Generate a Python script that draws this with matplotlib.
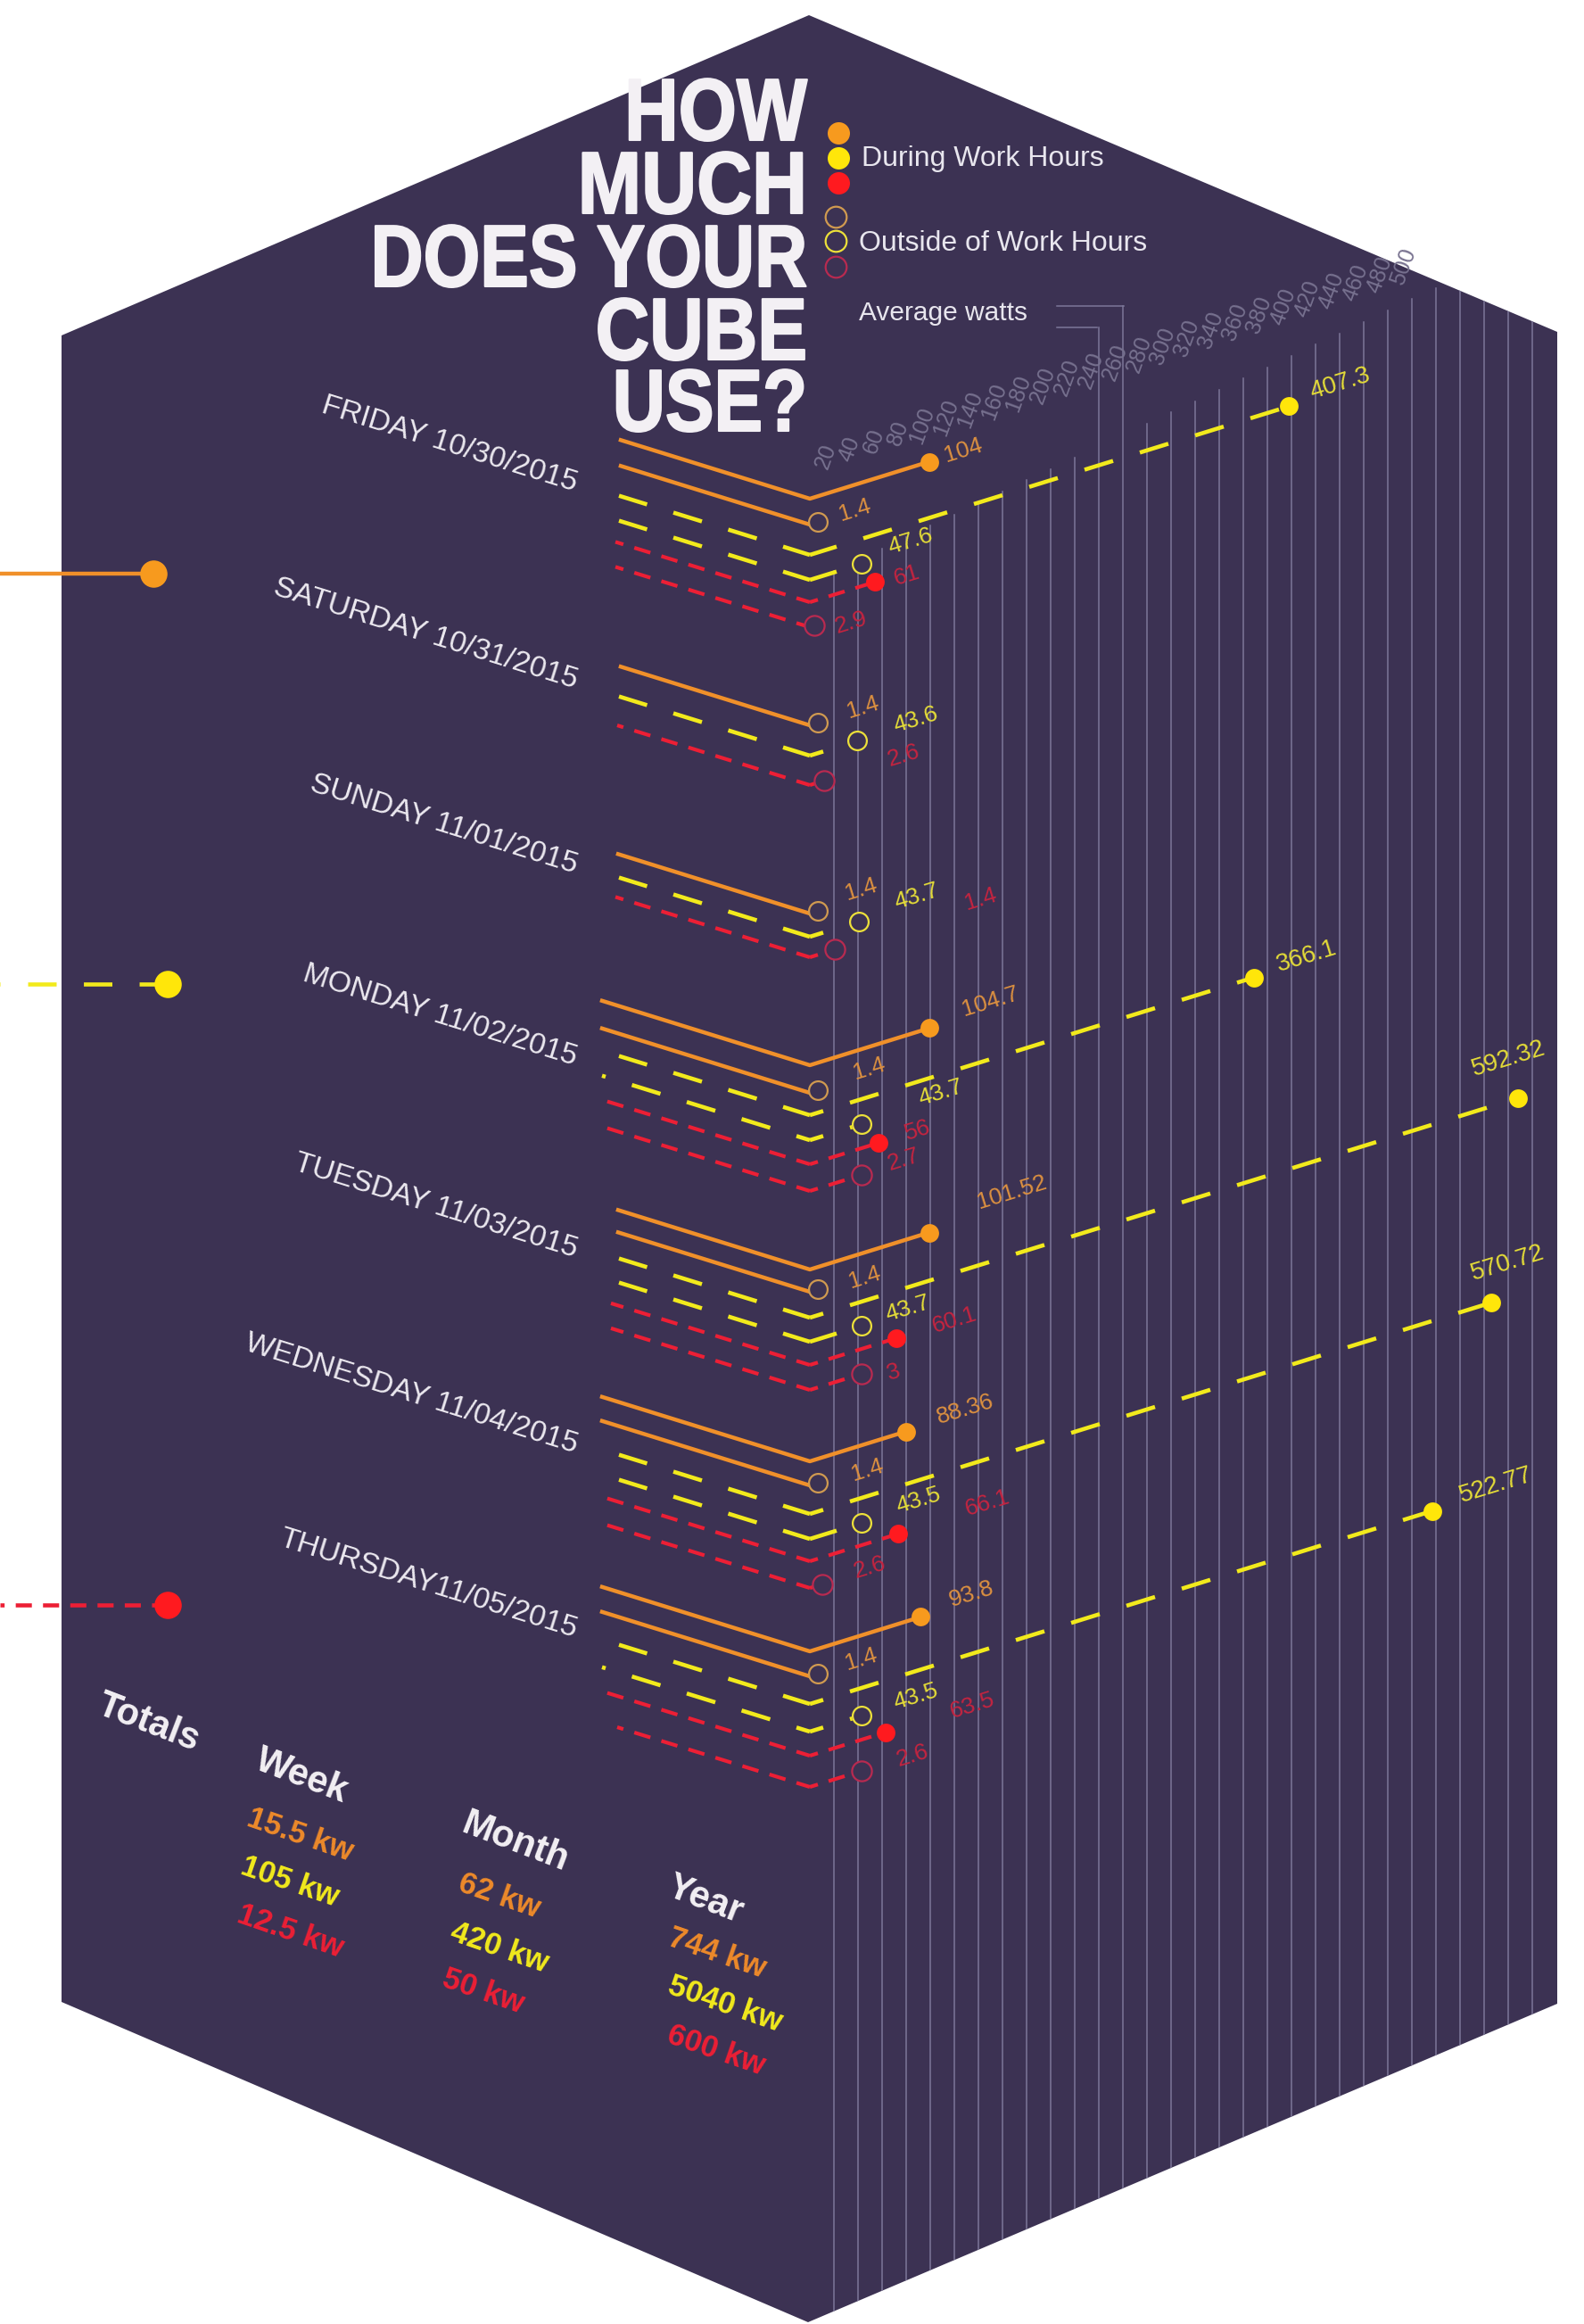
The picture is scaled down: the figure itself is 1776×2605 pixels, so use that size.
import numpy as np
import matplotlib as mpl
mpl.use('Agg')
mpl.rcParams['font.family'] = ['Liberation Sans', 'DejaVu Sans']
mpl.rcParams['lines.scale_dashes'] = False
import matplotlib.pyplot as plt
from matplotlib.patches import Polygon
from matplotlib.patheffects import AbstractPathEffect
from matplotlib.transforms import Affine2D

#=============
# Data
#=============
days = ['FRIDAY 10/30/2015', 'SATURDAY 10/31/2015', 'SUNDAY 11/01/2015', 'MONDAY 11/02/2015',
        'TUESDAY 11/03/2015', 'WEDNESDAY 11/04/2015', 'THURSDAY11/05/2015']

# watts, None = no mark that day
orange_on = [99, None, None, 99.6, 99, 80, 92]
yellow_on = [398, None, None, 369, 588.5, 566, 517]
red_on = [54, None, None, 57.4, 71.5, 73, 62.6]
orange_off = [6.5, 6.5, 6.5, 6.5, 6.5, 6.5, 6.5]
yellow_off = [43.3, 39.6, 40.4, 42.6, 42.6, 42.6, 42.6]
red_off = [4, 12, 21, 43.3, 43.3, 10.7, 43.3]

# printed labels
orange_on_txt = ['104', None, None, '104.7', '101.52', '88.36', '93.8']
yellow_on_txt = ['407.3', None, None, '366.1', '592.32', '570.72', '522.77']
red_on_txt = ['61', None, None, '56', '60.1', '66.1', '63.5']
orange_off_txt = ['1.4', '1.4', '1.4', '1.4', '1.4', '1.4', '1.4']
yellow_off_txt = ['47.6', '43.6', '43.7', '43.7', '43.7', '43.5', '43.5']
red_off_txt = ['2.9', '2.6', '1.4', '2.7', '3', '2.6', '2.6']

ticks = list(range(20, 620, 20))
tick_labels = [str(t) for t in ticks if t <= 500]

totals_head = ['Totals', 'Week', 'Month', 'Year']
totals_week = ['15.5 kw', '105 kw', '12.5 kw']
totals_month = ['62 kw', '420 kw', '50 kw']
totals_year = ['744 kw', '5040 kw', '600 kw']

#=============
# Layout
#=============
W, H = 1776, 2605
x0 = 908
k = 1.35
slope = 0.31
hexagon = [(907, 17), (1746, 372), (1746, 2246), (906, 2603), (69, 2244), (69, 376)]

# y of each line at the corner
y_orange_on = [559, None, None, 1194, 1423, 1638, 1851]
y_orange_off = [588, 813, 1024, 1225, 1448, 1665, 1879]
y_yellow_on = [622, None, None, 1250, 1477, 1697, 1910]
y_yellow_off = [650, 847, 1050, 1278, 1504, 1725, 1941]
y_red_on = [675, None, None, 1305, 1530, 1750, 1968]
y_red_off = [703, 880, 1073, 1335, 1558, 1780, 2003]

# left ends of the lines
left_orange = [696, 696, 693, 675, 693, 675, 675]
left_yellow_off = [694, 694, 694, 675, 694, 694, 675]
left_red = [690, 692, 690, 675, 685, 675, 678]
left_red_off = [690, 692, 690, 675, 685, 675, 692]
first_yellow_off_l = [30, 30, 30, 15, 30, 30, 15]
first_yellow_on_r = [30, None, None, 15, 15, 15, 15]
first_yellow_off_r = [30, 15, 15, 15, 30, 30, 15]

label_orange_on = [(1080, 505), None, None, (1110, 1123), (1134, 1337), (1082, 1580), (1089, 1787)]
label_yellow_on = [(1503, 430), None, None, (1465, 1072), (1691, 1187), (1690, 1416), (1677, 1665)]
label_red_on = [(1017, 645), None, None, (1029, 1267), (1070, 1480), (1107, 1685), (1090, 1912)]
label_orange_off = [(958, 572), (967, 793), (965, 997), (974, 1198), (969, 1432), (972, 1648), (965, 1860)]
label_yellow_off = [(1021, 607), (1027, 807), (1028, 1005), (1055, 1225), (1018, 1467), (1030, 1682), (1027, 1902)]
label_red_off = [(954, 698), (1013, 847), (1099, 1008), (1013, 1300), (1002, 1538), (975, 1757), (1023, 1968)]

date_right = 644
date_y = [551, 772, 979, 1194, 1409, 1629, 1836]

bg = '#3c3253'
orange = '#f0902a'
yellow = '#f2ea1c'
red = '#ec1f35'
grid_col = '#7d7799'
white = '#f3f0f4'
t_orange = '#dc9040'
t_yellow = '#e4dc38'
t_red = '#c42440'


class Narrow(AbstractPathEffect):
    # squeeze a text sideways and thicken it, no condensed font is installed
    def __init__(self, sx, xa, lw):
        super().__init__()
        self.sx = sx
        self.xa = xa
        self.lw = lw

    def draw_path(self, renderer, gc, tpath, affine, rgbFace=None):
        squeeze = Affine2D().translate(-self.xa, 0).scale(self.sx, 1).translate(self.xa, 0)
        gc0 = renderer.new_gc()
        gc0.copy_properties(gc)
        gc0.set_linewidth(self.lw)
        gc0.set_foreground(rgbFace)
        renderer.draw_path(gc0, tpath, affine + squeeze, rgbFace)
        gc0.restore()


def wx(w):
    return x0 + k * w


def wy(y, w):
    return y - slope * k * w


def dashed(ya, xb, color, on, off, first, lw):
    # dashes run outwards from the corner
    s = np.sqrt(1 + slope ** 2) * 0.72
    ax.plot([x0, xb], [ya, ya - slope * abs(xb - x0)], color=color, lw=lw, zorder=3,
            linestyle=((on - first) * s, (on * s, off * s)), dash_capstyle='butt')


fig = plt.figure(figsize=(W / 100, H / 100), dpi=100)
ax = fig.add_axes([0, 0, 1, 1])
ax.set_xlim(0, W)
ax.set_ylim(H, 0)
ax.axis('off')

hex_patch = Polygon(hexagon, closed=True, facecolor=bg, edgecolor='none', zorder=0)
ax.add_patch(hex_patch)

#--------------
# Grid lines
#--------------
for t in ticks:
    x = wx(t)
    top = 640 - 0.47 * (x - 935)
    if t == 240:
        top = 367
    if t == 260:
        top = 343
    ln, = ax.plot([x, x], [top, H], color=grid_col, lw=1.1, zorder=1)
    ln.set_clip_path(hex_patch)

ax.plot([1185, 1260], [343, 343], color=grid_col, lw=1.1, zorder=1)
ax.plot([1185, 1230], [367, 367], color=grid_col, lw=1.1, zorder=1)

for t, lab in zip(ticks, tick_labels):
    tx = ax.text(926 + k * (t - 20), 512 - 0.443 * (t - 20), lab, rotation=70, rotation_mode='anchor',
                 ha='center', va='center', color='#77718f', fontsize=18, zorder=2, clip_on=True)
    tx.set_clip_path(hex_patch)

#--------------
# Daily lines
#--------------
for i in range(len(days)):
    ax.text(date_right, date_y[i], days[i], rotation=-17.3, rotation_mode='anchor', ha='right',
            va='baseline', color='#ece9f0', fontsize=24.2, zorder=4)

    # orange, during and outside work hours
    if orange_on[i] is not None:
        ax.plot([left_orange[i], x0, wx(orange_on[i])],
                [y_orange_on[i] - slope * (x0 - left_orange[i]), y_orange_on[i], wy(y_orange_on[i], orange_on[i])],
                color=orange, lw=3.2, zorder=3)
        ax.plot(wx(orange_on[i]), wy(y_orange_on[i], orange_on[i]), 'o', ms=15, color='#f79a1e', mew=0, zorder=5)
        ax.text(*label_orange_on[i], orange_on_txt[i], rotation=17, rotation_mode='anchor', ha='center',
                va='center', color=t_orange, fontsize=19, zorder=6)

    ax.plot([left_orange[i], x0], [y_orange_off[i] - slope * (x0 - left_orange[i]), y_orange_off[i]],
            color=orange, lw=3.2, zorder=3)
    ax.plot(wx(orange_off[i]), wy(y_orange_off[i], orange_off[i]), 'o', ms=15, mfc=bg, mec='#d09a50', mew=1.6, zorder=5)
    ax.text(*label_orange_off[i], orange_off_txt[i], rotation=17, rotation_mode='anchor', ha='center',
            va='center', color=t_orange, fontsize=19, zorder=6)

    # yellow
    if yellow_on[i] is not None:
        dashed(y_yellow_on[i], 694, yellow, 32, 29.5, 30, 3.3)
        dashed(y_yellow_on[i], wx(yellow_on[i]), yellow, 32, 30, first_yellow_on_r[i], 3.3)
        ax.plot(wx(yellow_on[i]), wy(y_yellow_on[i], yellow_on[i]), 'o', ms=15, color='#ffe60a', mew=0, zorder=5)
        ax.text(*label_yellow_on[i], yellow_on_txt[i], rotation=17, rotation_mode='anchor', ha='center',
                va='center', color=t_yellow, fontsize=20, zorder=6)

    dashed(y_yellow_off[i], left_yellow_off[i], yellow, 32, 29.5, first_yellow_off_l[i], 3.3)
    dashed(y_yellow_off[i], wx(yellow_off[i]) - 10, yellow, 32, 30, first_yellow_off_r[i], 3.3)
    ax.plot(wx(yellow_off[i]), wy(y_yellow_off[i], yellow_off[i]), 'o', ms=15, mfc=bg, mec='#ece03a', mew=1.6, zorder=5)
    ax.text(*label_yellow_off[i], yellow_off_txt[i], rotation=17, rotation_mode='anchor', ha='center',
            va='center', color=t_yellow, fontsize=19, zorder=6)

    # red
    if red_on[i] is not None:
        dashed(y_red_on[i], left_red[i], red, 18, 12.3, 15, 3.0)
        dashed(y_red_on[i], wx(red_on[i]), red, 18, 12, 9, 3.0)
        ax.plot(wx(red_on[i]), wy(y_red_on[i], red_on[i]), 'o', ms=15, color='#ff1a1f', mew=0, zorder=5)
        ax.text(*label_red_on[i], red_on_txt[i], rotation=17, rotation_mode='anchor', ha='center',
                va='center', color=t_red, fontsize=19, zorder=6)

    dashed(y_red_off[i], left_red_off[i], red, 18, 12.3, 15, 3.0)
    dashed(y_red_off[i], wx(red_off[i]) - 10, red, 18, 12, 9, 3.0)
    ax.plot(wx(red_off[i]), wy(y_red_off[i], red_off[i]), 'o', ms=16, mfc=bg, mec='#b82a50', mew=1.6, zorder=5)
    ax.text(*label_red_off[i], red_off_txt[i], rotation=17, rotation_mode='anchor', ha='center',
            va='center', color=t_red, fontsize=19, zorder=6)

#--------------
# Left key
#--------------
ax.plot([0, 171], [643, 643], color=orange, lw=3.2, zorder=3, clip_on=False)
ax.plot(172, 643, 'o', ms=22, color='#f79a1e', mew=0, zorder=5)
ax.plot([188, 0], [1103, 1103], color=yellow, lw=3.3, zorder=3, linestyle=(0, (23, 22)))
ax.plot(188, 1103, 'o', ms=22, color='#ffe60a', mew=0, zorder=5)
ax.plot([188, 0], [1799, 1799], color=red, lw=3.3, zorder=3, linestyle=(0, (13, 9)))
ax.plot(188, 1799, 'o', ms=22, color='#ff1a1f', mew=0, zorder=5)

#--------------
# Title + legend
#--------------
title_lines = ['HOW', 'MUCH', 'DOES YOUR', 'CUBE', 'USE?']
title_y = [157, 239, 321, 403, 483]
title_sx = [0.85, 0.87, 0.83, 0.85, 0.83]
for s, y, sx in zip(title_lines, title_y, title_sx):
    ax.text(905, y, s, ha='right', va='baseline', color=white, fontsize=71, fontweight='bold',
            path_effects=[Narrow(sx, 905, 1.5)], zorder=6)

for y, c in zip([149, 177, 205], ['#f79a1e', '#ffe60a', '#ff1a1f']):
    ax.plot(940, y, 'o', ms=18, color=c, mew=0, zorder=5)
for y, c in zip([243, 270, 299], ['#d09a50', '#ece03a', '#b82a50']):
    ax.plot(937, y, 'o', ms=17, mfc='none', mec=c, mew=1.6, zorder=5)

ax.text(966, 178, 'During Work Hours', va='center', color='#e8e6ee', fontsize=23, zorder=6)
ax.text(963, 273, 'Outside of Work Hours', va='center', color='#e8e6ee', fontsize=23, zorder=6)
ax.text(963, 351, 'Average watts', va='center', color='#e8e6ee', fontsize=21.5, zorder=6)

#--------------
# Totals
#--------------
head_pos = [(166, 1931), (338, 1991), (577, 2065), (790, 2130)]
for s, p in zip(totals_head, head_pos):
    ax.text(p[0], p[1], s, rotation=-21, rotation_mode='anchor', ha='center', va='center',
            color=white, fontsize=30, fontweight='bold', zorder=6)

cols = ['#ee8a2a', '#f2ea1c', '#ec1f35']
blocks = [(totals_week, [(336, 2057), (325, 2110), (325, 2165)]),
          (totals_month, [(560, 2125), (560, 2184), (542, 2232)]),
          (totals_year, [(804, 2190), (813, 2247), (803, 2299)])]
for vals, pos in blocks:
    for s, p, c in zip(vals, pos, cols):
        ax.text(p[0], p[1], s, rotation=-19, rotation_mode='anchor', ha='center', va='center',
                color=c, fontsize=25, fontweight='bold', zorder=6)

fig.savefig('out.png', dpi=100, facecolor='white')
